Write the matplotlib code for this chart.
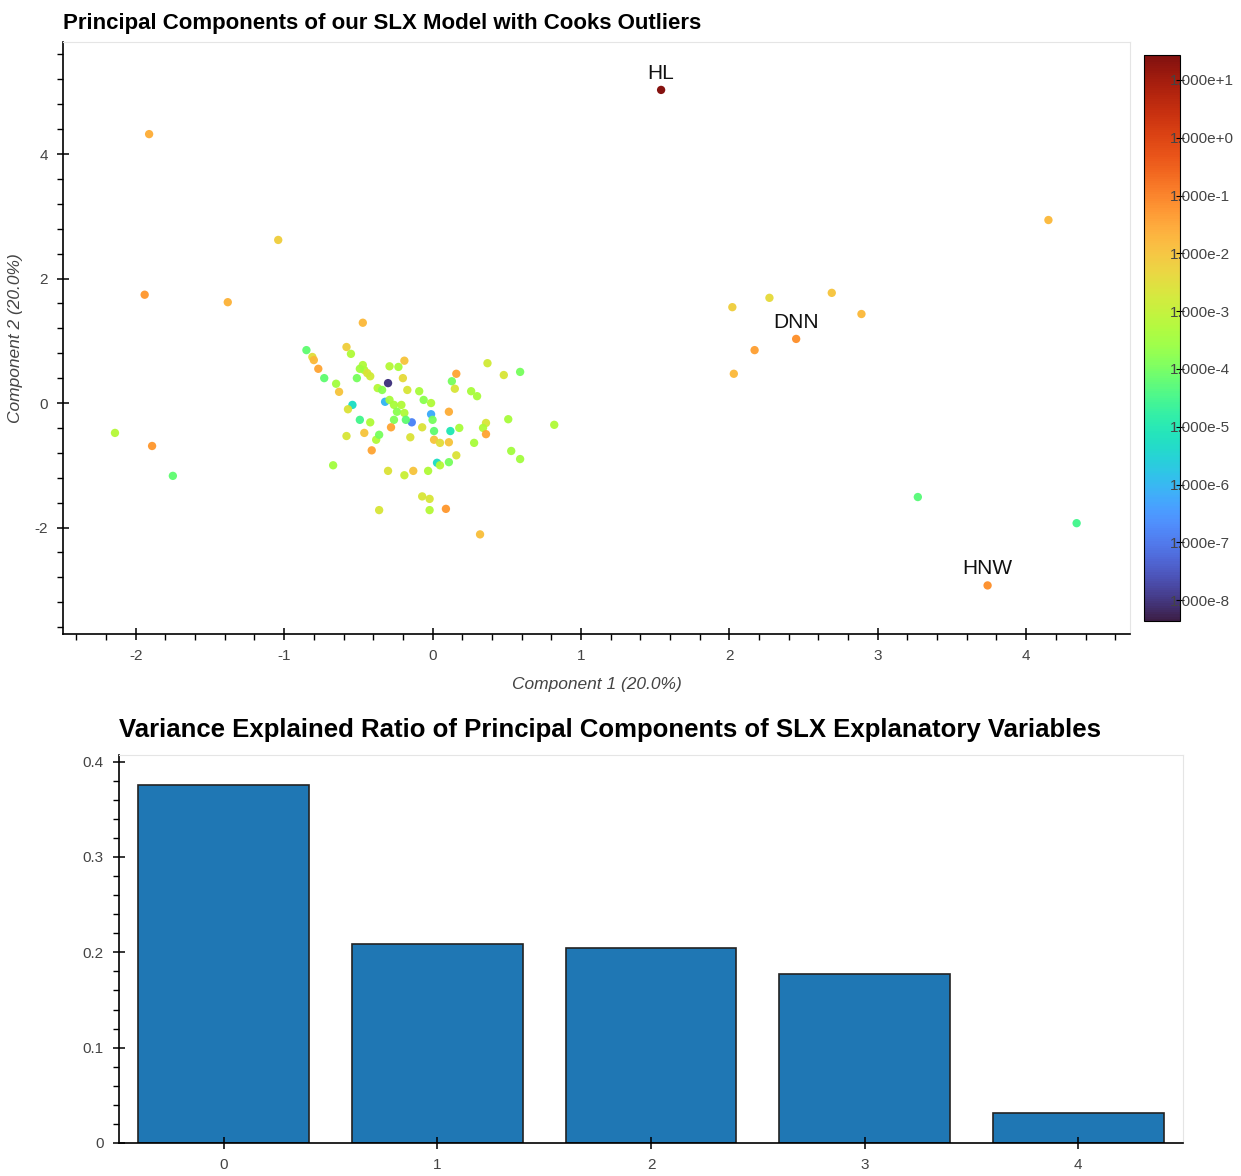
import numpy as np
import matplotlib
matplotlib.use("Agg")
import matplotlib.pyplot as plt
from matplotlib.colors import LogNorm
from matplotlib.ticker import MultipleLocator

# principal component scores and Cook's distance (log10) for each observation
pc1 = [1.54, -1.91, -1.04, -1.94, -1.38, -2.14, -1.89, -1.75, -0.47, 4.15,
       2.02, 2.27, 2.69, 2.89, 2.45, 2.17, 2.03, 3.27, 4.34, 3.74,
       0.32, 0.09, -0.36, -0.02, 0.82, -0.67,
       -0.85, -0.58, -0.55, -0.81, -0.80, -0.77, -0.73, -0.65, -0.63, -0.47,
       -0.46, -0.49, -0.51, -0.44, -0.42, -0.29, -0.23, -0.19, -0.30, -0.20,
       -0.17, -0.09, -0.06, -0.01, -0.37, -0.34, -0.32, -0.29, -0.26, -0.21,
       -0.24, -0.19, -0.14, -0.18, -0.26, -0.54, -0.57, -0.49, -0.42, -0.28,
       -0.46, -0.38, -0.58, -0.07, -0.01, -0.15,
       0.37, 0.48, 0.59, 0.16, 0.13, 0.15, 0.26, 0.30, 0.11, 0.00,
       0.51, 0.36, 0.34, 0.36, 0.18, 0.12, 0.01,
       0.01, 0.05, 0.11, 0.16, 0.28, 0.53, 0.59, 0.11, 0.03, 0.05,
       -0.03, -0.02, -0.36, -0.41, -0.30, -0.19, -0.13, -0.07]
pc2 = [5.03, 4.32, 2.62, 1.74, 1.62, -0.48, -0.69, -1.17, 1.29, 2.94,
       1.54, 1.69, 1.77, 1.43, 1.03, 0.85, 0.47, -1.51, -1.93, -2.93,
       -2.11, -1.70, -1.72, -1.72, -0.35, -1.00,
       0.85, 0.90, 0.79, 0.74, 0.69, 0.55, 0.40, 0.31, 0.18, 0.61,
       0.53, 0.55, 0.40, 0.48, 0.43, 0.59, 0.58, 0.68, 0.32, 0.40,
       0.21, 0.19, 0.05, 0.00, 0.24, 0.21, 0.02, 0.05, -0.03, -0.03,
       -0.14, -0.16, -0.31, -0.27, -0.27, -0.03, -0.10, -0.27, -0.31, -0.39,
       -0.48, -0.59, -0.53, -0.39, -0.18, -0.55,
       0.64, 0.45, 0.50, 0.47, 0.35, 0.23, 0.19, 0.11, -0.14, -0.27,
       -0.26, -0.32, -0.40, -0.50, -0.40, -0.45, -0.45,
       -0.59, -0.64, -0.63, -0.84, -0.64, -0.77, -0.90, -0.95, -0.96, -1.00,
       -1.09, -1.54, -0.51, -0.76, -1.09, -1.16, -1.09, -1.50]
cooks_log10 = [1.38, -1.6, -2.2, -1.3, -1.7, -3.2, -1.3, -4.2, -1.8, -1.8,
               -2.2, -2.4, -2.0, -1.8, -1.2, -1.4, -1.8, -4.3, -4.5, -1.2,
               -1.9, -1.3, -2.7, -3.2, -3.3, -3.5,
               -4.2, -2.2, -3.3, -2.5, -1.8, -1.5, -4.2, -3.5, -2.0, -3.3,
               -3.3, -3.5, -4.0, -2.6, -2.8, -3.2, -3.4, -2.0, -8.0, -2.4,
               -2.7, -3.4, -3.8, -3.3, -3.2, -3.8, -6.0, -3.4, -3.4, -3.3,
               -3.8, -3.3, -6.8, -4.2, -3.9, -5.3, -2.6, -4.5, -3.3, -1.5,
               -2.0, -3.3, -2.7, -2.6, -6.2, -2.6,
               -2.8, -2.7, -4.0, -1.5, -4.0, -2.7, -3.4, -3.4, -1.6, -4.0,
               -3.4, -2.7, -3.3, -1.5, -3.4, -5.0, -4.2,
               -2.0, -2.5, -2.0, -2.6, -3.4, -3.5, -3.5, -4.0, -5.3, -3.2,
               -3.3, -2.7, -4.0, -1.5, -2.6, -2.9, -2.0, -2.7]

# labelled outliers
outlier_names = ["HL", "DNN", "HNW"]
outlier_pc1 = [1.54, 2.45, 3.74]
outlier_pc2 = [5.03, 1.03, -2.93]

# explained variance ratio per component
components = [0, 1, 2, 3, 4]
var_ratio = [0.375, 0.209, 0.204, 0.177, 0.031]

cbar_ticks = [10.0 ** k for k in range(1, -9, -1)]
cbar_labels = [f"1.000e{k:+d}" for k in range(1, -9, -1)]

plt.rcParams["font.family"] = ["Liberation Sans", "DejaVu Sans"]
plt.rcParams["axes.unicode_minus"] = False
tick_grey = "#444444"

fig = plt.figure(figsize=(12.41, 11.76), dpi=100)


def bokeh_axes(ax):
    for side in ["top", "right"]:
        ax.spines[side].set_color("#e5e5e5")
    for side in ["left", "bottom"]:
        ax.spines[side].set_color("black")
        ax.spines[side].set_linewidth(1.2)
    ax.tick_params(which="major", direction="inout", length=8, width=1.1,
                   labelsize=11, labelcolor=tick_grey, color="black", pad=7)
    ax.tick_params(which="minor", direction="out", length=4, width=1.0,
                   color="black")


# scatter of the first two components
ax1 = fig.add_axes([0.0508, 0.4609, 0.8598, 0.5034])
cooks = 10.0 ** np.array(cooks_log10)
norm = LogNorm(vmin=10 ** -8.36, vmax=10 ** 1.43)
sc = ax1.scatter(pc1, pc2, c=cooks, cmap="turbo", norm=norm, s=36,
                 edgecolors="none", alpha=0.95)
for name, x, y in zip(outlier_names, outlier_pc1, outlier_pc2):
    ax1.annotate(name, (x, y), xytext=(0, 5), textcoords="offset points",
                 ha="center", va="bottom", fontsize=15, color="#111111")
ax1.set_xlim(-2.49, 4.70)
ax1.set_ylim(-3.71, 5.80)
ax1.xaxis.set_major_locator(MultipleLocator(1))
ax1.xaxis.set_minor_locator(MultipleLocator(0.2))
ax1.yaxis.set_major_locator(MultipleLocator(2))
ax1.yaxis.set_minor_locator(MultipleLocator(0.4))
bokeh_axes(ax1)
ax1.set_xlabel("Component 1 (20.0%)", fontsize=12.5, style="italic",
               color=tick_grey, labelpad=10)
ax1.set_ylabel("Component 2 (20.0%)", fontsize=12.5, style="italic",
               color=tick_grey, labelpad=8)
ax1.set_title("Principal Components of our SLX Model with Cooks Outliers",
              loc="left", fontsize=16, fontweight="bold", pad=9)

cax = fig.add_axes([0.9218, 0.4719, 0.029, 0.4813])
cb = fig.colorbar(sc, cax=cax)
cb.set_ticks(cbar_ticks)
cb.set_ticklabels(cbar_labels)
cb.minorticks_off()
cb.outline.set_color("black")
cb.ax.tick_params(direction="inout", length=6, pad=-10, labelsize=11,
                  labelcolor=tick_grey)

# explained variance bars
ax2 = fig.add_axes([0.0959, 0.0281, 0.8574, 0.3299])
ax2.bar(components, var_ratio, width=0.8, color="#1f77b4",
        edgecolor="#222222", linewidth=1.2)
ax2.set_xlim(-0.49, 4.49)
ax2.set_ylim(0, 0.407)
ax2.set_xticks(components)
ax2.yaxis.set_major_locator(MultipleLocator(0.1))
ax2.yaxis.set_minor_locator(MultipleLocator(0.02))
ax2.set_yticks([0, 0.1, 0.2, 0.3, 0.4], ["0", "0.1", "0.2", "0.3", "0.4"])
bokeh_axes(ax2)
fig.text(0.4915, 0.3795,
         "Variance Explained Ratio of Principal Components of SLX Explanatory Variables",
         ha="center", va="center", fontsize=18.5, fontweight="bold")

fig.savefig("out.png", dpi=100)
